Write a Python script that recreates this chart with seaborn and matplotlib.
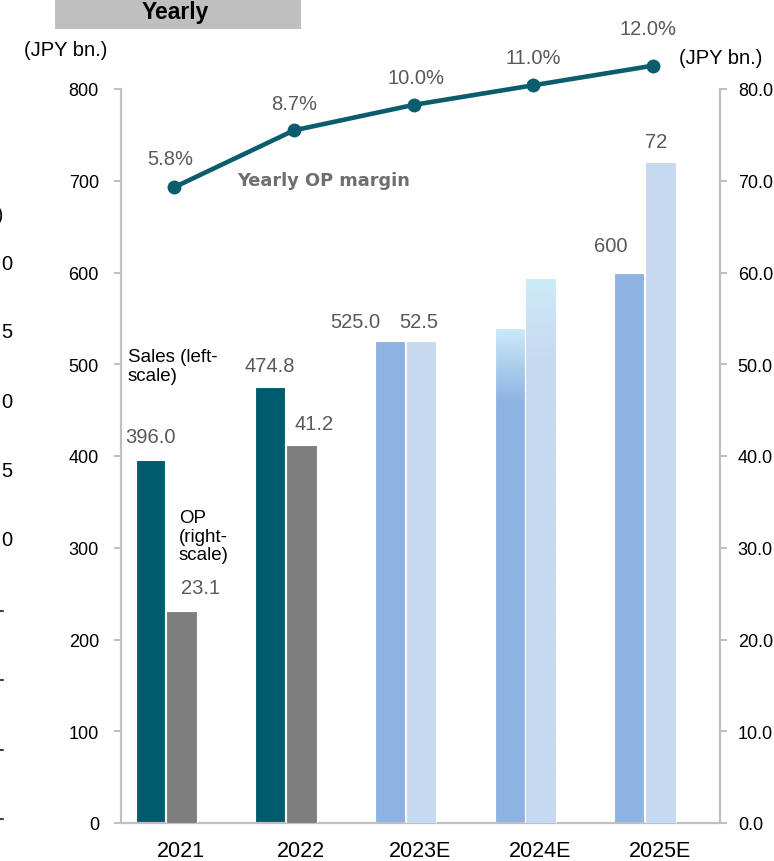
import numpy as np
import pandas as pd
import matplotlib
matplotlib.use("Agg")
import matplotlib.pyplot as plt
import seaborn as sns
from matplotlib.patches import Rectangle
from matplotlib.lines import Line2D
from matplotlib.colors import to_rgba

# ---- data ----
years = ["2021", "2022", "2023E", "2024E", "2025E"]
sales = [396.0, 474.8, 525.0, 540.0, 600.0]          # left scale, JPY bn.
op = [23.1, 41.2, 52.5, 59.4, 72.0]                   # right scale, JPY bn.
margin = [5.8, 8.7, 10.0, 11.0, 12.0]                 # %
sales_labels = ["396.0", "474.8", "525.0", "", "600"]
op_labels = ["23.1", "41.2", "52.5", "", "72"]
margin_labels = ["5.8%", "8.7%", "10.0%", "11.0%", "12.0%"]
left_ticks = [0, 100, 200, 300, 400, 500, 600, 700, 800]
right_ticks = [0, 10, 20, 30, 40, 50, 60, 70, 80]

# ---- styling ----
TEAL = "#005B6E"
GREY = "#7F7F7F"
BLUE = "#8DB3E2"
PALE = "#C6D9F1"
CYAN = "#CCEBF8"
LINE = "#0B5D6E"
SPINE = "#BFBFBF"
LABEL = "#595959"
sales_colors = {y: (TEAL if i < 2 else BLUE) for i, y in enumerate(years)}
op_colors = {y: (GREY if i < 2 else PALE) for i, y in enumerate(years)}
# label offsets in pixels (dx, dy) from the bar top / marker
sales_off = [(0, 23), (0, 22), (-35, 20), (0, 0), (-19, 27)]
op_off = [(19, 24), (13, 21), (-2, 20), (0, 0), (-4, 21)]
margin_off = [(-4, 29), (0, 27), (2, 27), (0, 28), (-5, 37)]

W, H = 774, 862
sns.set_theme(style="white")
plt.rcParams["font.family"] = ["Liberation Sans", "DejaVu Sans"]

fig = plt.figure(figsize=(W / 100, H / 100), dpi=100)
ax = fig.add_axes([121.2 / W, 1 - 824 / H, 598.5 / W, (824 - 90) / H])
ax2 = ax.twinx()
ax3 = ax.twinx()

pos = np.arange(len(years))
df = pd.DataFrame({"year": years, "pos": pos, "sales": sales, "op": op, "margin": margin})
df["sales_x"] = df["pos"] - 0.255
df["op_x"] = df["pos"] + 0.005
df["line_x"] = df["pos"] - 0.057

sns.barplot(data=df, x="sales_x", y="sales", hue="year", palette=sales_colors,
            native_scale=True, width=0.25, dodge=False, legend=False, ax=ax,
            edgecolor="white", linewidth=0.8, saturation=1)
sns.barplot(data=df, x="op_x", y="op", hue="year", palette=op_colors,
            native_scale=True, width=0.255, dodge=False, legend=False, ax=ax2,
            edgecolor="white", linewidth=0.8, saturation=1)


def fade(bar, ax_, base, top, start):
    """Paint a vertical colour fade into a bar, solid below `start` fraction."""
    x0, w = bar.get_x(), bar.get_width()
    h = bar.get_height()
    n = 200
    f = np.linspace(0, 1, n)
    t = np.clip((f - start) / (1 - start), 0, 1)[:, None]
    c0 = np.array(to_rgba(base))
    c1 = np.array(to_rgba(top))
    img = (c0 * (1 - t) + c1 * t)[:, None, :]
    im = ax_.imshow(img, extent=[x0, x0 + w, 0, h], origin="lower",
                    aspect="auto", zorder=bar.get_zorder(), interpolation="bilinear")
    im.set_clip_path(bar)
    bar.set_facecolor("none")
    bar.set_zorder(bar.get_zorder() + 0.1)


fade(ax.containers[3][0], ax, BLUE, CYAN, 0.85)
fade(ax2.containers[3][0], ax2, PALE, CYAN, 0.85)

sns.lineplot(data=df, x="line_x", y="margin", ax=ax3, color=LINE, linewidth=3.3,
             marker="o", markersize=10, markeredgewidth=0, clip_on=False)

# axis ranges and ticks
ax.set_xlim(-0.5, 4.5)
ax.set_ylim(0, 800)
ax2.set_ylim(0, 80)
ax3.set_ylim(-26.62, 10.81)
ax3.set_axis_off()

ax.set_xticks(pos)
ax.set_xticklabels(years)
ax.set_yticks(left_ticks)
ax.set_yticklabels([str(v) for v in left_ticks])
ax2.set_yticks(right_ticks)
ax2.set_yticklabels([f"{v:.1f}" for v in right_ticks])
ax.set_xlabel("")
ax.set_ylabel("")
ax2.set_ylabel("")
ax2.set_xlabel("")

for s in ["top", "right"]:
    ax.spines[s].set_visible(False)
for s in ["top", "left", "bottom"]:
    ax2.spines[s].set_visible(False)
for a, s in [(ax, "left"), (ax, "bottom"), (ax2, "right")]:
    a.spines[s].set_color(SPINE)
    a.spines[s].set_linewidth(1.6)

ax.tick_params(axis="y", direction="out", length=5, width=1.4, color=SPINE,
               pad=11, labelsize=13, labelcolor="black", left=True)
ax2.tick_params(axis="y", direction="out", length=5, width=1.4, color=SPINE,
                pad=8, labelsize=13, labelcolor="black", right=True)
ax.tick_params(axis="x", length=0, pad=12, labelsize=15.5, labelcolor="black")
ax.grid(False)
ax2.grid(False)

# value labels
for i in range(len(years)):
    if sales_labels[i]:
        ax.annotate(sales_labels[i], (df.sales_x[i], sales[i]), xytext=sales_off[i],
                    textcoords="offset pixels", ha="center", va="center",
                    fontsize=14.5, color=LABEL, annotation_clip=False)
    if op_labels[i]:
        ax2.annotate(op_labels[i], (df.op_x[i], op[i]), xytext=op_off[i],
                     textcoords="offset pixels", ha="center", va="center",
                     fontsize=14.5, color=LABEL, annotation_clip=False)
    ax3.annotate(margin_labels[i], (df.line_x[i], margin[i]), xytext=margin_off[i],
                 textcoords="offset pixels", ha="center", va="center",
                 fontsize=14.5, color=LABEL, annotation_clip=False)


def ftext(x, y, s, **kw):
    fig.text(x / W, 1 - y / H, s, **kw)


# series notes
ftext(237, 181, "Yearly OP margin", fontsize=12.8, fontweight="bold",
      color="#6E6E6E", ha="left", va="center", family=["DejaVu Sans"])
ftext(128, 367, "Sales (left-\nscale)", fontsize=13.5, color="black",
      ha="left", va="center", linespacing=1.15)
ftext(179, 537, "OP\n(right-\nscale)", fontsize=13.5, color="black",
      ha="left", va="center", linespacing=1.15)

# units
ftext(66, 50, "(JPY bn.)", fontsize=14.5, color="black", ha="center", va="center")
ftext(721, 58, "(JPY bn.)", fontsize=14.5, color="black", ha="center", va="center")

# header band
fig.patches.append(Rectangle((55 / W, 1 - 29.5 / H), 246 / W, 40 / H,
                             transform=fig.transFigure, facecolor="#BFBFBF",
                             edgecolor="none", zorder=0))
ftext(175, 12, "Yearly", fontsize=16.5, fontweight="bold", color="black",
      ha="center", va="center")

# neighbouring panel's axis, cut at the left edge
ftext(3, 216, "(JPY bn.)", fontsize=14.5, color="black", ha="right", va="center")
for y, s in zip([265, 333, 403, 472, 541], ["0", "5", "0", "5", "0"]):
    ftext(12, y, s, fontsize=14.5, color="black", ha="right", va="center")
for y in [612, 681, 751, 820]:
    fig.add_artist(Line2D([0, 2.5 / W], [1 - y / H] * 2, transform=fig.transFigure,
                          color="#404040", linewidth=1.5))

fig.savefig("out.png", dpi=100)
